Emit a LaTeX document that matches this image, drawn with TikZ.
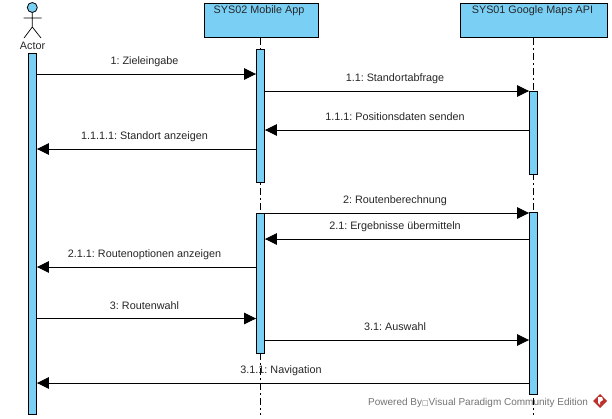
\documentclass[tikz,border=0pt]{standalone}
\usepackage{fontspec}
\setmainfont{Liberation Sans}
\newfontfamily\symfont{DejaVu Sans}
\usetikzlibrary{arrows.meta,calc}
\definecolor{vpblue}{RGB}{122,207,245}
\definecolor{vpred}{RGB}{190,50,45}
\tikzset{
  x=1pt,y=-1pt,
  lifebox/.style={draw=black,fill=vpblue,line width=0.9pt,minimum height=34.5pt,inner sep=0pt,anchor=north west,text height=0pt},
  activation/.style={draw=black,fill=vpblue,line width=0.9pt,minimum width=8pt,inner sep=0pt,anchor=north},
  lifeline/.style={line width=0.9pt,dash pattern=on 7pt off 3pt on 2pt off 3pt},
  msg/.style={line width=0.9pt,-{Triangle[length=12pt,width=11.5pt]}},
  lab/.style={font=\frenchspacing\fontsize{10.8pt}{12pt}\selectfont,text=black!85,inner sep=0pt,anchor=base,pos=.5,yshift=9.2pt,xshift=-2pt},
  boxtext/.style={font=\frenchspacing\fontsize{10.8pt}{12pt}\selectfont,text=black!85,inner sep=0pt,anchor=base},
}
\begin{document}
\begin{tikzpicture}
\useasboundingbox (0,0) rectangle (612,418);
% lifeline heads
\node[lifebox,minimum width=114pt] (sys02) at (203.5,2.5) {};
\node[lifebox,minimum width=147.5pt] (sys01) at (459.5,2.5) {};
\node[boxtext] (sys02t) at (259,13.5) {SYS02 Mobile App};
\node[boxtext] (sys01t) at (532.5,13.5) {SYS01 Google Maps API};
% lifelines
\coordinate (end02) at (260.5,415);
\coordinate (end01) at (533.5,415);
\draw[lifeline] (sys02.south -| end02) -- (end02);
\draw[lifeline] (sys01.south -| end01) -- (end01);
% actor
\node[circle,draw=black,fill=vpblue,line width=0.8pt,minimum size=10pt,inner sep=0pt] (head) at (32.3,7.5) {};
\coordinate (hip) at (32.3,27);
\coordinate (armL) at (23.5,18);
\coordinate (armR) at (41.5,18);
\coordinate (legL) at (24,38);
\coordinate (legR) at (41,38);
\draw[line width=0.7pt] (head.south) -- (hip) (armL) -- (armR) (legL) -- (hip) -- (legR);
\node[boxtext] (actor) at (32.5,49) {Actor};
% activations
\node[activation,minimum height=361pt] (a0) at (32.5,52.5) {};
\node[activation,minimum height=133.5pt] (m1) at (260.5,48.5) {};
\node[activation,minimum height=140pt] (m2) at (260.5,213) {};
\node[activation,minimum height=83pt] (g1) at (533.5,91) {};
\node[activation,minimum height=182pt] (g2) at (533.5,212) {};
% messages
\draw[msg] (a0.east |- 0,74) -- node[lab] (t1) {1: Zieleingabe} (m1.west |- 0,74);
\draw[msg] (m1.east |- 0,91) -- node[lab] (t2) {1.1: Standortabfrage} (g1.west |- 0,91);
\draw[msg] (g1.west |- 0,130) -- node[lab] (t3) {1.1.1: Positionsdaten senden} (m1.east |- 0,130);
\draw[msg] (m1.west |- 0,149) -- node[lab] (t4) {1.1.1.1: Standort anzeigen} (a0.east |- 0,149);
\draw[msg] (m2.east |- 0,213) -- node[lab] (t5) {2: Routenberechnung} (g2.west |- 0,213);
\draw[msg] (g2.west |- 0,239) -- node[lab] (t6) {2.1: Ergebnisse übermitteln} (m2.east |- 0,239);
\draw[msg] (m2.west |- 0,267) -- node[lab] (t7) {2.1.1: Routenoptionen anzeigen} (a0.east |- 0,267);
\draw[msg] (a0.east |- 0,318.5) -- node[lab] (t8) {3: Routenwahl} (m2.west |- 0,318.5);
\draw[msg] (m2.east |- 0,340) -- node[lab] (t9) {3.1: Auswahl} (g2.west |- 0,340);
\draw[msg] (g2.west |- 0,383) -- node[lab] (t10) {3.1.1: Navigation} (a0.east |- 0,383);
% footer
\node[font=\fontsize{10pt}{12pt}\selectfont,text=black!55,inner sep=0pt,anchor=base west] (foot) at (368,405) {Powered By{\symfont\fontsize{7pt}{8pt}\selectfont □}Visual Paradigm Community Edition};
\fill[vpred] (600,394) -- (607,401) -- (600,408) -- (593,401) -- cycle;
\fill[white] (598,397) -- (602,397) -- (603,400) -- (600,402) -- (600,405) -- (598,403) -- cycle;
\end{tikzpicture}
\end{document}
